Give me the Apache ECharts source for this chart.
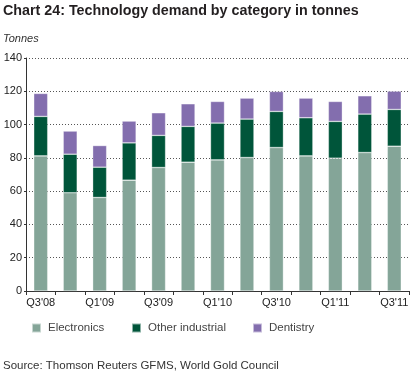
<!DOCTYPE html>
<html><head><meta charset="utf-8">
<script src="https://cdn.jsdelivr.net/npm/echarts@6/dist/echarts.min.js"></script>
<style>html,body{margin:0;padding:0;background:#fff}#c{width:412px;height:374px}</style>
</head><body><div id="c"></div>
<script>
const categories = ["Q3'08","Q4'08","Q1'09","Q2'09","Q3'09","Q4'09","Q1'10","Q2'10","Q3'10","Q4'10","Q1'11","Q2'11","Q3'11"];
const electronics = [81.2, 59.0, 56.2, 66.6, 74.2, 77.4, 78.8, 80.2, 86.2, 81.2, 79.8, 83.2, 87.0];
const otherIndustrial = [23.7, 23.2, 18.2, 22.4, 19.3, 21.5, 22.1, 23.1, 21.7, 22.9, 22.1, 23.1, 22.1];
const dentistry = [13.8, 13.9, 13.0, 13.1, 13.6, 13.6, 13.0, 12.6, 12.0, 11.8, 12.0, 11.0, 11.0];
const seriesNames = ['Electronics', 'Other industrial', 'Dentistry'];
const colors = ['#84a598', '#00553a', '#836eae'];

const chart = echarts.init(document.getElementById('c'), null, {renderer: 'canvas'});
const font = 'Liberation Sans, Arial, sans-serif';
const mkSeries = (name, data, i) => ({
  name, type: 'bar', stack: 'total', data, barWidth: 14,
  itemStyle: {color: colors[i], borderColor: 'rgba(255,255,255,0.55)', borderWidth: 0.6},
  emphasis: {disabled: true}
});
const legendPos = [26, 126, 247];
chart.setOption({
  animation: false,
  textStyle: {fontFamily: font},
  title: [
    {text: 'Chart 24: Technology demand by category in tonnes', left: 3, top: 4, padding: 0,
     textStyle: {fontSize: 14.3, fontWeight: 'bold', color: '#231f20', fontFamily: font}},
    {text: 'Tonnes', left: 3, top: 33, padding: 0,
     textStyle: {fontSize: 11, fontStyle: 'italic', fontWeight: 'normal', color: '#333', fontFamily: font}},
    {text: 'Source: Thomson Reuters GFMS, World Gold Council', left: 3, top: 360, padding: 0,
     textStyle: {fontSize: 11.5, fontWeight: 'normal', color: '#333', fontFamily: font}}
  ],
  legend: seriesNames.map((n, i) => ({
    data: [n], left: legendPos[i], top: 317, itemWidth: 9, itemHeight: 9, itemGap: 0,
    icon: 'rect', selectedMode: false,
    textStyle: {fontSize: 11.5, color: '#444', fontFamily: font, padding: [0, 0, 0, 2]}
  })),
  grid: {left: 26, right: 3, top: 58, bottom: 83, containLabel: false},
  xAxis: {
    type: 'category', data: categories,
    axisLine: {lineStyle: {color: '#333', width: 1}},
    axisTick: {show: true, interval: 0, alignWithLabel: false, length: 4, lineStyle: {color: '#333'}},
    axisLabel: {interval: 1, color: '#222', fontSize: 11, margin: 6, fontFamily: font}
  },
  yAxis: {
    type: 'value', min: 0, max: 140, interval: 20,
    axisLine: {show: true, lineStyle: {color: '#333'}},
    axisTick: {show: true, length: 2, lineStyle: {color: '#333'}},
    axisLabel: {color: '#222', fontSize: 11, margin: 4, fontFamily: font},
    splitLine: {show: true, lineStyle: {color: '#555', type: [1, 2], width: 1}}
  },
  series: [
    mkSeries(seriesNames[0], electronics, 0),
    mkSeries(seriesNames[1], otherIndustrial, 1),
    mkSeries(seriesNames[2], dentistry, 2)
  ]
});
</script></body></html>
